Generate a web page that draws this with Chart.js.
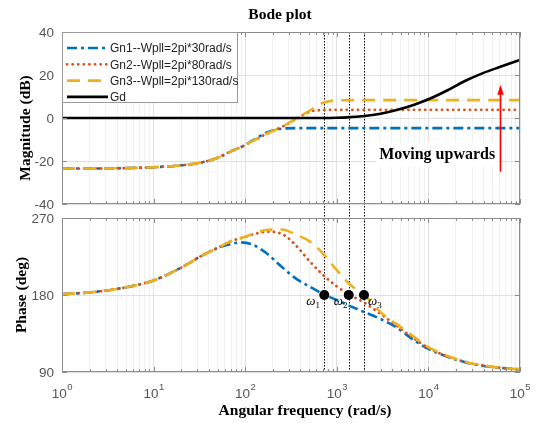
<!DOCTYPE html>
<html>
<head>
<meta charset="utf-8">
<script src="https://cdn.jsdelivr.net/npm/chart.js@4.4.0/dist/chart.umd.min.js"></script>
<style>
  html, body { margin: 0; padding: 0; background: #fff; }
  #wrap { position: relative; width: 536px; height: 423px; overflow: hidden; }
  #wrap canvas { position: absolute; left: 0; }
  #mag { top: 0; }
  #phase { top: 212px; }
</style>
</head>
<body>
<div id="wrap">
  <canvas id="mag" width="536" height="212"></canvas>
  <canvas id="phase" width="536" height="211"></canvas>
</div>
<script>
// frequency grid (rad/s)
const freq = [1, 2, 5, 10, 20, 35, 50, 70, 90, 120, 170, 250, 350, 500, 700, 1000,
  1400, 2000, 3000, 4500, 7000, 10000, 16000, 25000, 40000, 60000, 100000];

// magnitude (dB)
const magGn1 = [-23.5, -23.5, -23.3, -22.9, -22, -20.5, -18.5, -15.5, -13.5, -10.5, -6.8, -5.0, -4.7, -4.7,
  -4.7, -4.7, -4.7, -4.7, -4.7, -4.7, -4.7, -4.7, -4.7, -4.7, -4.7, -4.7, -4.7];
const magGn2 = [-23.5, -23.5, -23.3, -22.9, -22, -20.5, -18.5, -15.5, -13.5, -10.8, -7.4, -4.2, -0.8, 2.8,
  3.7, 3.8, 3.8, 3.8, 3.8, 3.8, 3.8, 3.8, 3.8, 3.8, 3.8, 3.8, 3.8];
const magGn3 = [-23.5, -23.5, -23.3, -22.9, -22, -20.5, -18.5, -15.5, -13.5, -10.8, -7.4, -4.2, -0.6, 3.3,
  7.0, 8.2, 8.3, 8.3, 8.3, 8.3, 8.3, 8.3, 8.3, 8.3, 8.3, 8.3, 8.3];
const magGd = [0, 0, 0, 0, 0, 0, 0, 0, 0, 0, 0, 0, 0, 0, 0, 0.1,
  0.4, 0.9, 2.0, 3.7, 6.2, 8.7, 12.8, 17.2, 21.0, 23.7, 27.0];

// phase (deg)
const phGn1 = [181, 183, 189, 197, 212, 227, 235, 239.5, 241.5, 239, 229, 213, 200, 190, 181.5, 174,
  167, 160, 152, 142, 127, 117, 108, 101.5, 97, 95, 93];
const phGn2 = [181, 183, 189, 197, 212, 227, 235, 243, 246.5, 250.5, 254, 251.5, 239, 220, 204, 190,
  180, 171, 158, 144, 129, 118, 108.5, 102, 97.5, 95, 93];
const phGn3 = [181, 183, 189, 197, 212, 227, 235, 243, 246.5, 251, 256, 256.5, 251, 243, 229, 209,
  192, 180, 160, 146, 131, 119, 109, 102, 97.5, 95, 93];

// crossover frequencies marked on the phase plot
const omega = [730, 1350, 1980];
const omegaPhase = [180, 180, 180];
const omegaNames = ['1', '2', '3'];

// axis ticks
const xDecades = [0, 1, 2, 3, 4, 5];
const magTicks = [-40, -20, 0, 20, 40];
const phaseTicks = [90, 180, 270];

const GRID_MAJOR = '#e1e1e1';
const GRID_MINOR = '#f1f1f1';
const AXIS_GRAY = '#8c8c8c';
const TICK_TEXT = '#555';
const SANS = '"Liberation Sans", Arial, sans-serif';
const SERIF = '"Liberation Serif", "Times New Roman", serif';

const isDecade = v => Math.abs(Math.log10(v) - Math.round(Math.log10(v))) < 1e-9;
const pts = (ys) => ys.map((y, i) => ({ x: freq[i], y }));

function logTicks(scale) {
  const t = [];
  xDecades.slice(0, -1).forEach(e => {
    for (let m = 1; m < 10; m++) t.push({ value: m * Math.pow(10, e) });
  });
  t.push({ value: Math.pow(10, xDecades[xDecades.length - 1]) });
  scale.ticks = t;
}

function xAxis() {
  return {
    type: 'logarithmic', min: 1, max: 1e5,
    afterBuildTicks: logTicks,
    ticks: { display: false },
    grid: {
      color: c => (c.tick && isDecade(c.tick.value)) ? GRID_MAJOR : GRID_MINOR,
      drawTicks: false
    },
    border: { display: false }
  };
}

function yAxis(min, max, list) {
  return {
    min: min, max: max,
    afterBuildTicks: s => { s.ticks = list.map(v => ({ value: v })); },
    ticks: { display: false },
    grid: { color: GRID_MAJOR, drawTicks: false },
    border: { display: false }
  };
}

// box, inward ticks and tick labels in the MATLAB look
function drawFrame(chart, withXLabels) {
  const { ctx, chartArea: a, scales: { x, y } } = chart;
  ctx.save();
  ctx.strokeStyle = AXIS_GRAY;
  ctx.lineWidth = 1;
  ctx.strokeRect(a.left + 0.5, a.top + 0.5, a.right - a.left - 1, a.bottom - a.top - 1);
  ctx.beginPath();
  x.ticks.forEach(t => {
    const px = Math.round(x.getPixelForValue(t.value)) + 0.5;
    const len = isDecade(t.value) ? 5 : 3;
    ctx.moveTo(px, a.bottom); ctx.lineTo(px, a.bottom - len);
    ctx.moveTo(px, a.top); ctx.lineTo(px, a.top + len);
  });
  y.ticks.forEach(t => {
    const py = Math.round(y.getPixelForValue(t.value)) + 0.5;
    ctx.moveTo(a.left, py); ctx.lineTo(a.left + 5, py);
    ctx.moveTo(a.right, py); ctx.lineTo(a.right - 5, py);
  });
  ctx.stroke();

  ctx.fillStyle = TICK_TEXT;
  ctx.font = '13.5px ' + SANS;
  ctx.textAlign = 'right';
  ctx.textBaseline = 'middle';
  y.ticks.forEach(t => ctx.fillText(String(t.value), a.left - 8, y.getPixelForValue(t.value) + 1));

  if (withXLabels) {
    ctx.textAlign = 'left';
    ctx.textBaseline = 'alphabetic';
    xDecades.forEach(e => {
      const px = x.getPixelForValue(Math.pow(10, e));
      ctx.font = '13.5px ' + SANS;
      const wBase = ctx.measureText('10').width;
      ctx.font = '9.5px ' + SANS;
      const wExp = ctx.measureText(String(e)).width;
      const left = px - (wBase + wExp) / 2;
      ctx.font = '13.5px ' + SANS;
      ctx.fillText('10', left, a.bottom + 26);
      ctx.font = '9.5px ' + SANS;
      ctx.fillText(String(e), left + wBase + 0.5, a.bottom + 18);
    });
  }
  ctx.restore();
}

function drawVLines(chart, top, bottom) {
  const { ctx, scales: { x } } = chart;
  ctx.save();
  ctx.strokeStyle = '#000';
  ctx.lineWidth = 1;
  ctx.setLineDash([1.5, 1.5]);
  omega.forEach(w => {
    const px = Math.round(x.getPixelForValue(w)) + 0.5;
    ctx.beginPath();
    ctx.moveTo(px, top);
    ctx.lineTo(px, bottom);
    ctx.stroke();
  });
  ctx.restore();
}

function drawYTitle(ctx, text, cx, cy) {
  ctx.save();
  ctx.translate(cx, cy);
  ctx.rotate(-Math.PI / 2);
  ctx.fillStyle = '#000';
  ctx.font = 'bold 15.5px ' + SERIF;
  ctx.textAlign = 'center';
  ctx.textBaseline = 'middle';
  ctx.fillText(text, 0, 0);
  ctx.restore();
}

function drawLegend(chart) {
  const ctx = chart.ctx;
  ctx.save();
  ctx.fillStyle = '#fff';
  ctx.fillRect(63, 33, 174, 69);
  ctx.strokeStyle = '#9a9a9a';
  ctx.lineWidth = 1;
  ctx.strokeRect(62.5, 32.5, 175, 70);
  chart.data.datasets.forEach((ds, i) => {
    const y = 48 + i * 16.3;
    ctx.strokeStyle = ds.borderColor;
    ctx.lineWidth = ds.borderWidth;
    ctx.lineCap = ds.borderCapStyle || 'butt';
    ctx.setLineDash(ds.borderDash || []);
    ctx.beginPath();
    ctx.moveTo(67, y);
    ctx.lineTo(108, y);
    ctx.stroke();
    ctx.setLineDash([]);
    ctx.fillStyle = '#222';
    ctx.font = '12px ' + SANS;
    ctx.textAlign = 'left';
    ctx.textBaseline = 'middle';
    ctx.fillText(ds.label, 110, y + 1);
  });
  ctx.restore();
}

const styleGn1 = { borderColor: '#0072BD', borderWidth: 2.6, borderDash: [10, 4, 3, 4] };
const styleGn2 = { borderColor: '#D95319', borderWidth: 2.8, borderDash: [0.1, 5.5], borderCapStyle: 'round' };
const styleGn3 = { borderColor: '#EDB120', borderWidth: 2.6, borderDash: [13, 8] };
const lineBase = { pointRadius: 0, fill: false, cubicInterpolationMode: 'monotone' };

const magPlugin = {
  id: 'magDecor',
  beforeDatasetsDraw(chart) {
    drawVLines(chart, chart.chartArea.top, chart.height);
  },
  afterDraw(chart) {
    const { ctx, chartArea: a, scales: { x, y } } = chart;
    drawFrame(chart, false);
    drawLegend(chart);

    // annotation: label and arrow
    ctx.save();
    ctx.font = 'bold 16px ' + SERIF;
    const label = 'Moving upwards';
    const tx = x.getPixelForValue(2900);
    const ty = y.getPixelForValue(-17);
    const tw = ctx.measureText(label).width;
    ctx.fillStyle = '#fff';
    ctx.fillRect(tx - 3, ty - 12, tw + 6, 24);
    ctx.fillStyle = '#000';
    ctx.textAlign = 'left';
    ctx.textBaseline = 'middle';
    ctx.fillText(label, tx, ty);

    const ax = Math.round(x.getPixelForValue(60000)) + 0.5;
    const yTip = y.getPixelForValue(15.5);
    const yEnd = y.getPixelForValue(-25);
    ctx.strokeStyle = '#ff0000';
    ctx.fillStyle = '#ff0000';
    ctx.lineWidth = 1.6;
    ctx.beginPath();
    ctx.moveTo(ax, yEnd);
    ctx.lineTo(ax, yTip + 8);
    ctx.stroke();
    ctx.beginPath();
    ctx.moveTo(ax, yTip);
    ctx.lineTo(ax - 3.2, yTip + 10);
    ctx.lineTo(ax + 3.2, yTip + 10);
    ctx.closePath();
    ctx.fill();

    // titles
    ctx.fillStyle = '#000';
    ctx.font = 'bold 15.5px ' + SERIF;
    ctx.textAlign = 'center';
    ctx.textBaseline = 'middle';
    ctx.fillText('Bode plot', 280, 15);
    ctx.restore();
    drawYTitle(ctx, 'Magnitude (dB)', 26, 128);
  }
};

const phasePlugin = {
  id: 'phaseDecor',
  beforeDatasetsDraw(chart) {
    drawVLines(chart, 0, chart.chartArea.bottom);
  },
  afterDraw(chart) {
    const { ctx, chartArea: a } = chart;
    drawFrame(chart, true);

    // omega labels next to the markers
    const meta = chart.getDatasetMeta(3);
    const offsets = [-18, -15, 4];
    ctx.save();
    ctx.fillStyle = '#000';
    ctx.textAlign = 'left';
    ctx.textBaseline = 'alphabetic';
    meta.data.forEach((p, i) => {
      const lx = p.x + offsets[i];
      const ly = p.y + 10;
      ctx.font = 'italic 13px ' + SERIF;
      ctx.fillText('\u03c9', lx, ly);
      const w = ctx.measureText('\u03c9').width;
      ctx.font = '9px ' + SERIF;
      ctx.fillText(omegaNames[i], lx + w, ly + 3);
    });

    ctx.font = 'bold 15.5px ' + SERIF;
    ctx.textAlign = 'center';
    ctx.textBaseline = 'middle';
    ctx.fillText('Angular frequency (rad/s)', 305, a.bottom + 39);
    ctx.restore();
    drawYTitle(ctx, 'Phase (deg)', 22, (a.top + a.bottom) / 2);
  }
};

const common = {
  responsive: false,
  animation: false,
  events: [],
  devicePixelRatio: 1,
  plugins: { legend: { display: false }, tooltip: { enabled: false } }
};

new Chart(document.getElementById('mag'), {
  type: 'line',
  data: {
    datasets: [
      Object.assign({ label: 'Gn1--Wpll=2pi*30rad/s', data: pts(magGn1), order: 3 }, styleGn1, lineBase),
      Object.assign({ label: 'Gn2--Wpll=2pi*80rad/s', data: pts(magGn2), order: 2 }, styleGn2, lineBase),
      Object.assign({ label: 'Gn3--Wpll=2pi*130rad/s', data: pts(magGn3), order: 1 }, styleGn3, lineBase),
      Object.assign({ label: 'Gd', data: pts(magGd), order: 0, borderColor: '#000', borderWidth: 2.6 }, lineBase)
    ]
  },
  options: Object.assign({}, common, {
    layout: { padding: { left: 62, right: 16, top: 32, bottom: 8 } },
    scales: { x: xAxis(), y: yAxis(-40, 40, magTicks) }
  }),
  plugins: [magPlugin]
});

new Chart(document.getElementById('phase'), {
  type: 'line',
  data: {
    datasets: [
      Object.assign({ label: 'Gn1', data: pts(phGn1), order: 3 }, styleGn1, lineBase),
      Object.assign({ label: 'Gn2', data: pts(phGn2), order: 2 }, styleGn2, lineBase),
      Object.assign({ label: 'Gn3', data: pts(phGn3), order: 1 }, styleGn3, lineBase),
      {
        label: 'crossover',
        data: omega.map((w, i) => ({ x: w, y: omegaPhase[i] })),
        showLine: false, order: -1,
        pointRadius: 5, pointBackgroundColor: '#000', pointBorderColor: '#000', pointBorderWidth: 0
      }
    ]
  },
  options: Object.assign({}, common, {
    layout: { padding: { left: 62, right: 16, top: 6, bottom: 51 } },
    scales: { x: xAxis(), y: yAxis(90, 270, phaseTicks) }
  }),
  plugins: [phasePlugin]
});
</script>
</body>
</html>
